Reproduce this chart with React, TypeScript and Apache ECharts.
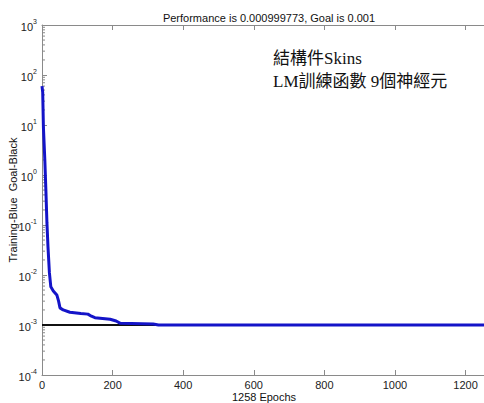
import React, { useEffect, useRef } from 'react';
import * as echarts from 'echarts';

const epochs = [0, 2, 4, 8, 11, 14, 17, 21, 25, 32, 42, 47, 51, 60, 79, 110, 130, 140, 150, 193, 210, 222, 315, 330, 1258];
const performance = [60, 45, 9, 2, 0.5, 0.11, 0.036, 0.011, 0.0058, 0.0048, 0.004, 0.003, 0.0022, 0.002, 0.0018, 0.0017, 0.00165, 0.0015, 0.0014, 0.0013, 0.0012, 0.00108, 0.00105, 0.001, 0.000999773];
const goalEpochs = [0, 1258];
const goalValues = [0.001, 0.001];
const decades = [-4, -3, -2, -1, 0, 1, 2];
const minorMultipliers = [2, 3, 4, 5, 6, 7, 8, 9];

const titleText = 'Performance is 0.000999773, Goal is 0.001';
const xName = '1258 Epochs';
const yName = 'Training-Blue  Goal-Black';
const noteLines = ['結構件Skins', 'LM訓練函數 9個神經元'];

const FONT = '"Liberation Sans", Arial, sans-serif';
const AXIS = '#8a8a8a';

export default function App() {
  const ref = useRef<HTMLDivElement>(null);
  useEffect(() => {
    if (!ref.current) return;
    const chart = echarts.init(ref.current, undefined, { renderer: 'svg' });
    const minorData: number[][] = [];
    decades.forEach((d) => minorMultipliers.forEach((m) => minorData.push([0, m * Math.pow(10, d)])));
    chart.setOption({
      animation: false,
      backgroundColor: '#fff',
      textStyle: { fontFamily: FONT },
      title: {
        text: titleText,
        left: 264,
        top: 7,
        textAlign: 'center',
        textStyle: { fontSize: 11, fontWeight: 'normal', color: '#111', fontFamily: FONT },
      },
      grid: { left: 42, top: 25, width: 444, height: 350, containLabel: false, outerBoundsMode: 'none' },
      xAxis: [
        {
          type: 'value',
          min: 0,
          max: 1258,
          interval: 200,
          position: 'bottom',
          name: xName,
          nameLocation: 'middle',
          nameGap: 16,
          nameMoveOverlap: false,
          nameTextStyle: { fontSize: 11, color: '#111', fontFamily: FONT },
          axisLine: { show: true, onZero: false, lineStyle: { color: AXIS, width: 1 } },
          axisTick: { show: true, inside: true, length: 5, lineStyle: { color: AXIS } },
          axisLabel: { fontSize: 11, color: '#222', margin: 4, fontFamily: FONT,
            formatter: (v: number) => (v > 1250 ? '' : String(v)) },
          splitLine: { show: false },
        },
        {
          type: 'value',
          min: 0,
          max: 1258,
          interval: 200,
          position: 'top',
          axisLine: { show: true, onZero: false, lineStyle: { color: AXIS, width: 1 } },
          axisTick: { show: true, inside: true, length: 5, lineStyle: { color: AXIS } },
          axisLabel: { show: false },
          splitLine: { show: false },
        },
      ],
      yAxis: {
        type: 'log',
        logBase: 10,
        min: 1e-4,
        max: 1e3,
        splitNumber: 7,
        name: yName,
        nameLocation: 'middle',
        nameGap: 24,
        nameMoveOverlap: false,
        nameRotate: 90,
        nameTextStyle: { fontSize: 11, color: '#111', fontFamily: FONT },
        axisLine: { show: true, lineStyle: { color: AXIS, width: 1 } },
        axisTick: { show: true, inside: true, length: 5, lineStyle: { color: AXIS } },
        axisLabel: {
          margin: 5,
          formatter: (v: number) => `{b|10}{e|${Math.round(Math.log10(v))}}`,
          rich: {
            b: { fontSize: 11, color: '#222', fontFamily: FONT, verticalAlign: 'bottom', lineHeight: 15 },
            e: { fontSize: 7, color: '#222', fontFamily: FONT, verticalAlign: 'top', lineHeight: 15 },
          },
        },
        splitLine: { show: false },
      },
      graphic: [
        {
          type: 'text',
          left: 273,
          top: 47,
          style: {
            text: noteLines.join('\n'),
            fontSize: 17,
            lineHeight: 23,
            fontFamily: '"Liberation Serif", "DejaVu Serif", "Noto Sans CJK TC", serif',
            fill: '#111',
          },
        },
      ],
      series: [
        {
          type: 'custom',
          silent: true,
          clip: false,
          data: minorData,
          renderItem: (params: any, api: any) => {
            const p = api.coord([0, api.value(1)]);
            return {
              type: 'line',
              shape: { x1: p[0], y1: p[1], x2: p[0] + 3, y2: p[1] },
              style: { stroke: AXIS, lineWidth: 1 },
            };
          },
          z: 1,
        },
        {
          type: 'line',
          data: goalEpochs.map((e, i) => [e, goalValues[i]]),
          showSymbol: false,
          lineStyle: { color: '#111', width: 2 },
          z: 2,
        },
        {
          type: 'line',
          data: epochs.map((e, i) => [e, performance[i]]),
          showSymbol: false,
          lineStyle: { color: '#1414c8', width: 3 },
          z: 3,
        },
      ],
    });
    return () => chart.dispose();
  }, []);
  return (
    <div
      ref={ref}
      style={{ position: 'fixed', left: 0, top: 0, width: 484, height: 403 }}
    />
  );
}
